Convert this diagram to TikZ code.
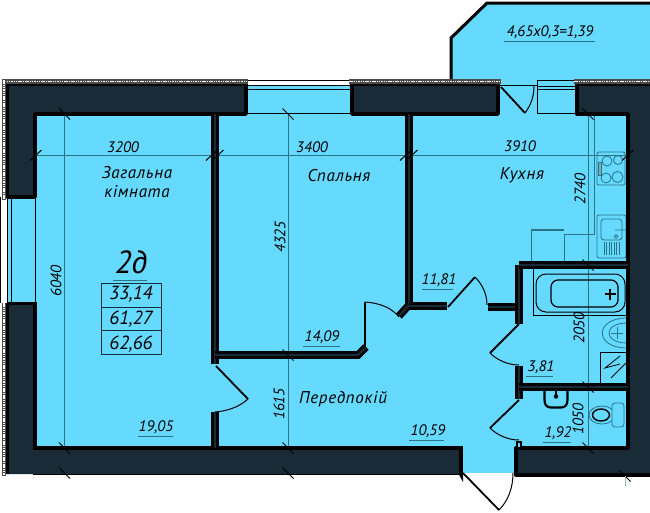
\documentclass[tikz,border=0pt]{standalone}
\usepackage{fontspec}
\setmainfont{PT Sans}
\usetikzlibrary{positioning, calc}
\definecolor{roomcyan}{HTML}{66D9FF}
\definecolor{walldark}{HTML}{182B36}
\definecolor{dimteal}{HTML}{2A7488}
\tikzset{
  plantext/.style={font=\fontsize{15.2}{15.2}\selectfont\itshape, inner sep=0pt, text=black},
  roomtext/.style={font=\fontsize{17}{17}\selectfont\itshape\addfontfeatures{LetterSpace=4}, inner sep=0pt, text=black},
  boxtext/.style={font=\fontsize{19}{19}\selectfont\itshape, inner sep=0pt, text=black},
  dimline/.style={dimteal, line width=0.7pt},
  furn/.style={dimteal, line width=0.8pt},
  tick/.style={black, line width=1pt},
  outerwall/.style={fill=walldark, draw=black, line width=3.4pt, line join=round},
  partition/.style={draw=black, line width=2.6pt, double=walldark, double distance=2.4pt},
  leaf/.style={draw=black, line width=1.8pt},
  swing/.style={black, line width=1pt},
  underl/.style={dimteal, line width=1pt},
  thinw/.style={black, line width=0.8pt}
}
\begin{document}
\begin{tikzpicture}[x=1pt, y=-1pt]
\useasboundingbox (0,0) rectangle (650,512);
% Floor and balcony
\fill[roomcyan] (8,86) rectangle (628,473);
\draw[fill=roomcyan, draw=black, line width=3pt] (451,81) -- (451,38) -- (487,3) -- (654,3) -- (654,81);
\fill[roomcyan] (453,78) rectangle (650,90);

% Windows
\draw[thinw] (248,80) -- (351,80);
\draw[thinw] (248,85.5) -- (351,85.5);
\draw[thinw] (248,89) -- (351,89);
\draw[thinw] (248,113.5) -- (351,113.5);
\draw[thinw] (0.8,197) -- (0.8,303);
\draw[thinw] (7,197) -- (7,303);
\draw[thinw] (11,197) -- (11,303);
\draw[thinw] (35,197) -- (35,303);
\draw[thinw] (537,80) rectangle (576,113.5);
\draw[thinw] (537,86) -- (576,86);
\draw[thinw] (537,89) -- (576,89);
\draw[thinw] (500,85.5) -- (537,85.5);

% Dimension lines
\draw[dimline] (36,155) -- (628,155);
\draw[dimline] (64.5,114) -- (64.5,448);
\draw[dimline] (288,114) -- (288,448);
\draw[dimline] (588,114) -- (588,448);

% Kitchen
\draw[furn] (594,114) -- (594,234) -- (564,234) -- (564,265);
\draw[furn, line width=1.3pt] (531,230) -- (564,230);
\draw[furn] (531,230) -- (531,265);
\draw[furn, rounded corners=2pt] (597,152) rectangle (625,185);
\draw[furn] (607,161) circle (5) (618,160) circle (4.5) (606,178) circle (5) (617.5,177) circle (5.5);
\draw[furn, fill=dimteal!60] (598,162) rectangle (601,175);
\draw[furn, rounded corners=2pt] (597,215) rectangle (626,258);
\draw[furn, rounded corners=3pt] (601,219) rectangle (622,240);
\draw[furn] (616,236.5) circle (1.8) (615,230) -- (626,230);
\foreach \x in {604,606.5,...,621} \draw[furn] (\x,242) -- (\x,255);

% Bath and basin
\draw[black, line width=0.9pt] (533,266) -- (533,315) -- (628,315);
\draw[black, line width=1pt, rounded corners=10pt] (536,274) rectangle (625,312);
\draw[black, line width=1.2pt, rounded corners=7pt] (551,280) rectangle (618,307);
\draw[black, line width=1.2pt] (604.5,294) -- (615.5,294) (610,288.5) -- (610,299.5);
\draw[furn] (627,318) .. controls (594,318) and (594,348) .. (627,348);
\draw[furn] (627,323) .. controls (603,323) and (603,343) .. (627,343);
\draw[furn] (611,333) -- (623,333) (617,327) -- (617,339);
\draw[thinw] (627,352) -- (600,352) -- (600,386);
\draw[thinw] (620,356) -- (605,368) -- (620,364);
\draw[thinw] (626,363) -- (611,378);

% Toilet
\draw[black, line width=2.2pt] (544.5,390) -- (544.5,400) .. controls (544.5,405) and (547,407.5) .. (551,407.5) -- (561,407.5) .. controls (565,407.5) and (567.5,405) .. (567.5,400) -- (567.5,390);
\fill[black] (556,396.5) circle (2.2);
\draw[black, line width=1.2pt] (556,390) -- (556,396);
\draw[furn] (602,415) ellipse (13 and 9);
\draw[black, line width=1.4pt] (601,415) ellipse (8.5 and 6);
\draw[furn, rounded corners=3pt, fill=roomcyan] (612,403) rectangle (624,427);

% Outer walls
\draw[outerwall] (7,197) -- (7,84.5) -- (246,84.5) -- (246,114) -- (35,114) -- (35,197) -- cycle;
\draw[outerwall] (352,84.5) -- (498,84.5) -- (498,114) -- (352,114) -- cycle;
\draw[outerwall] (653,84.5) -- (577,84.5) -- (577,114) -- (628,114) -- (628,448) -- (516,448) -- (516,475) -- (653,475);
\fill[walldark] (7,303) -- (35,303) -- (35,448) -- (461,448) -- (461,474) -- (7,474) -- cycle;
\fill[black] (6,303) rectangle (8.5,474);
\draw[black, line width=3.4pt] (7,303.5) -- (35,303.5) -- (35,448) -- (461,448) -- (461,474);
\draw[black, line width=1.6pt] (33,474.5) -- (461,474.5);
\fill[black] (458,473) -- (463,473) -- (463,482) -- cycle;

% Facade strips
\foreach \xa/\xb in {2/248, 349/501, 574/650}{
  \draw[black!70, line width=4.6pt] (\xa,81.5) -- (\xb,81.5);
  \draw[white, line width=1.5pt, dash pattern=on 1.5pt off 0.8pt] (\xa,81.5) -- (\xb,81.5);
}
\foreach \ya/\yb in {80/200, 303/476}{
  \draw[black!70, line width=3.4pt] (4,\ya) -- (4,\yb);
  \draw[white, line width=1.4pt, dash pattern=on 1.5pt off 0.8pt] (4,\ya) -- (4,\yb);
}

% Partitions
\draw[partition] (215,114) -- (215,364);
\draw[partition] (215,412) -- (215,448);
\draw[partition] (215,355) -- (358,355) -- (366,347);
\draw[partition] (409,114) -- (409,305) -- (399,316);
\draw[partition] (409,306) -- (447,306);
\draw[partition] (488,307) -- (519,307);
\draw[partition] (519,265) -- (519,324);
\draw[partition] (519,265) -- (628,265);
\draw[partition] (519,366) -- (519,399);
\draw[partition] (519,387) -- (628,387);
\draw[black, line width=1.4pt, fill=roomcyan] (517,442) rectangle (521,448);

% Doors
\draw[leaf] (216,366) -- (248,399);
\draw[swing] (248,399) .. controls (238,408) and (226,411) .. (215,412);
\draw[leaf] (365,348) -- (365,302);
\draw[swing] (365,302) .. controls (380,303) and (392,308) .. (399,317);
\draw[leaf] (448,307) -- (475,277);
\draw[swing] (475,277) .. controls (483,285) and (487,295) .. (487,305);
\draw[leaf] (519,324) -- (490,353);
\draw[swing] (490,353) .. controls (497,360) and (508,365) .. (519,365);
\draw[leaf] (519,400) -- (490,428);
\draw[swing] (490,428) .. controls (497,435) and (508,440) .. (519,440);
\draw[leaf] (501,87) -- (525,113);
\draw[swing] (525,113) .. controls (531,105) and (534,96) .. (534,86);
\draw[leaf] (463,473) -- (499,510);
\draw[swing] (499,510) .. controls (508,501) and (513,488) .. (513,473);

% Dimension ticks
\foreach \x/\y in {36/155, 212/155, 218/155, 406/155, 412/155, 628/155}
  \draw[tick] (\x-6,\y+5.5) -- (\x+5.5,\y-5);
\foreach \x/\y in {64.5/114, 64.5/448, 64.5/473, 288/114, 288/355, 288/448, 288/473, 588/114, 588/265, 588/387, 588/448, 625/476}
  \draw[tick] (\x-5.5,\y-5.5) -- (\x+5.5,\y+5.5);
\draw[dimteal!50, line width=0.6pt] (625,476) -- (625,486);

% Area box
\node[plantext, font=\fontsize{32}{32}\selectfont\itshape] (flattype) at (131,262) {2д};
\draw[underl] (113,280) -- (147,280);
\draw[black!60!dimteal, line width=1pt] (101.5,283) rectangle (161.5,354.5);
\draw[black!60!dimteal, line width=1pt] (101.5,307) -- (161.5,307) (101.5,330.5) -- (161.5,330.5);
\node[boxtext] (areaa) at (131,294.5) {33,14};
\node[boxtext] (areab) at (131,319) {61,27};
\node[boxtext] (areac) at (131,344) {62,66};

% Room names
\node[roomtext] (livinga) at (137,173) {Загальна};
\node[roomtext] (livingb) at (137,192) {кімната};
\node[roomtext] (bedroom) at (339,176) {Спальня};
\node[roomtext] (kitchen) at (522,175) {Кухня};
\node[roomtext] (hall) at (343,399) {Передпокій};

% Dimensions
\node[plantext] (dima) at (123,147) {3200};
\node[plantext] (dimb) at (312,147) {3400};
\node[plantext] (dimc) at (520,146) {3910};
\node[plantext, rotate=90] (dimd) at (580,189) {2740};
\node[plantext, rotate=90] (dime) at (280,237) {4325};
\node[plantext, rotate=90] (dimf) at (56,281) {6040};
\node[plantext, rotate=90] (dimg) at (279,404) {1615};
\node[plantext, rotate=90] (dimh) at (579,328) {2050};
\node[plantext, rotate=90] (dimi) at (578,419) {1050};

% Areas
\foreach \nm/\cx/\cy/\val/\ua/\ub in {a/156/427/{19,05}/138/173, b/322/337/{14,09}/303/340, c/439/280/{11,81}/422/453, d/428/431/{10,59}/409/444, e/541/367/{3,81}/526/553, f/558/433/{1,92}/543/571, g/550/32/{4,65х0,3=1,39}/504/595}{
  \node[plantext] (area\nm) at (\cx,\cy) {\val};
  \draw[underl] (\ua,\cy+9.5) -- (\ub,\cy+9.5);
}
\end{tikzpicture}
\end{document}
